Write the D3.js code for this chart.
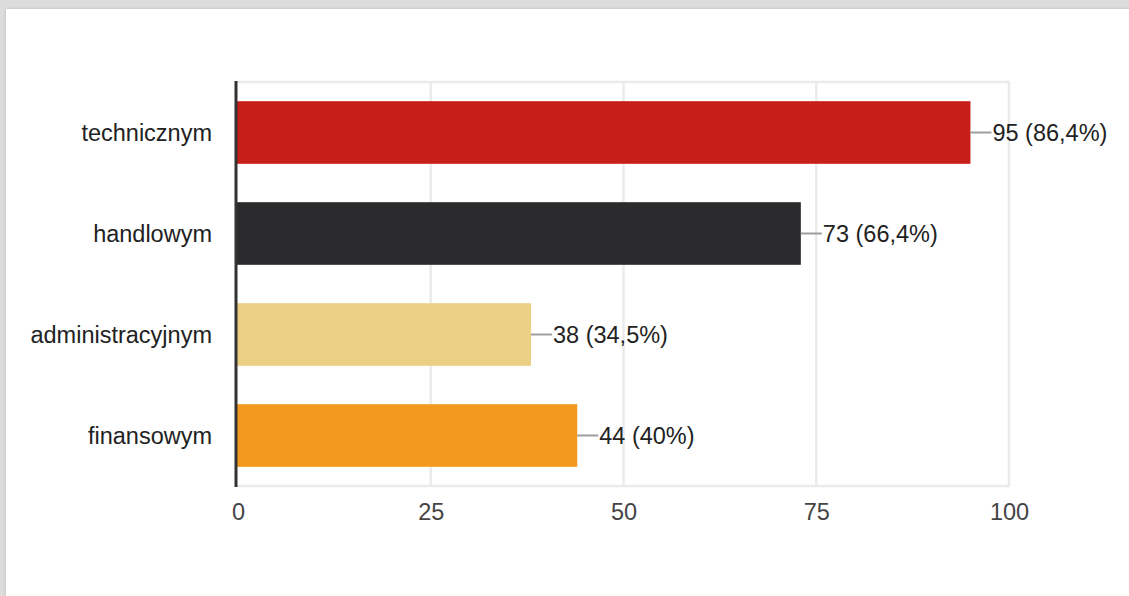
<!DOCTYPE html>
<html>
<head>
<meta charset="utf-8">
<script src="https://cdn.jsdelivr.net/npm/d3@7"></script>
<style>
  html, body { margin: 0; padding: 0; }
  body { width: 1129px; height: 596px; background: #dcdcdd; position: relative; overflow: hidden; }
  .card { position: absolute; left: 6px; top: 9px; width: 1200px; height: 700px; background: #fff;
          box-shadow: 0 0 3px rgba(0,0,0,0.15); }
  svg { position: absolute; left: 0; top: 0; }
</style>
</head>
<body>
<div class="card"></div>
<div id="chart"></div>
<script>
// dane
var categories = ["technicznym", "handlowym", "administracyjnym", "finansowym"];
var counts = [95, 73, 38, 44];
var percents = ["86,4%", "66,4%", "34,5%", "40%"];
var barColors = ["#c61f1a", "#2b2b2d", "#eacf84", "#f39a1e"];
var xTicks = [0, 25, 50, 75, 100];

var W = 1129, H = 596;
var plotLeft = 238, plotRight = 1009, plotTop = 82, plotBottom = 486;
var font = "'Liberation Sans', Arial, sans-serif";

var svg = d3.select("#chart").append("svg")
    .attr("width", W)
    .attr("height", H);

// skale
var xScale = d3.scaleLinear().domain([0, 100]).range([plotLeft, plotRight]);
var yScale = d3.scaleBand().domain(categories).range([plotTop, plotBottom])
    .paddingInner(0.38).paddingOuter(0.19);

// siatka
var grid_g = svg.append("g").attr("class", "grid");
grid_g.selectAll("line.v")
    .data(xTicks.slice(1))
    .enter()
    .append("line")
    .attr("class", "v")
    .attr("x1", d => xScale(d)).attr("x2", d => xScale(d))
    .attr("y1", plotTop).attr("y2", plotBottom)
    .attr("stroke", "#ebebeb")
    .attr("stroke-width", 2.5);
grid_g.selectAll("line.h")
    .data([plotTop, plotBottom])
    .enter()
    .append("line")
    .attr("class", "h")
    .attr("x1", plotLeft - 2).attr("x2", plotRight + 1)
    .attr("y1", d => d).attr("y2", d => d)
    .attr("stroke", "#ebebeb")
    .attr("stroke-width", 2.5);

// slupki
var bar_g = svg.append("g").attr("class", "bars")
    .selectAll("g")
    .data(categories)
    .enter()
    .append("g");

bar_g.append("rect")
    .attr("x", xScale(0) - 1)
    .attr("y", d => yScale(d))
    .attr("width", (d, i) => xScale(counts[i]) - xScale(0) + 1)
    .attr("height", yScale.bandwidth())
    .attr("fill", (d, i) => barColors[i]);

// etykiety wartosci
bar_g.append("line")
    .attr("x1", (d, i) => xScale(counts[i]))
    .attr("x2", (d, i) => xScale(counts[i]) + 21)
    .attr("y1", d => yScale(d) + yScale.bandwidth() / 2)
    .attr("y2", d => yScale(d) + yScale.bandwidth() / 2)
    .attr("stroke", "#9e9e9e")
    .attr("stroke-width", 2);

bar_g.append("text")
    .attr("x", (d, i) => xScale(counts[i]) + 22)
    .attr("y", d => yScale(d) + yScale.bandwidth() / 2)
    .attr("dy", "0.37em")
    .style("font-family", font)
    .style("font-size", "23.5px")
    .attr("fill", "#222")
    .text((d, i) => counts[i] + " (" + percents[i] + ")");

// os y
var yAxis = svg.append("g")
    .attr("transform", "translate(" + (plotLeft - 2) + ",0)")
    .call(d3.axisLeft(yScale).tickSize(0).tickPadding(24));
yAxis.select(".domain")
    .attr("stroke", "#333")
    .attr("stroke-width", 3)
    .attr("d", "M0," + (plotTop - 1) + "V" + (plotBottom + 1));
yAxis.selectAll("text")
    .attr("dy", "0.37em")
    .style("font-family", font)
    .style("font-size", "23.5px")
    .attr("fill", "#222");

// os x
var xAxis = svg.append("g")
    .attr("transform", "translate(0," + plotBottom + ")")
    .call(d3.axisBottom(xScale).tickValues(xTicks).tickSize(0).tickPadding(17));
xAxis.select(".domain").remove();
xAxis.selectAll("text")
    .style("font-family", font)
    .style("font-size", "23.5px")
    .attr("fill", "#444");
</script>
</body>
</html>
